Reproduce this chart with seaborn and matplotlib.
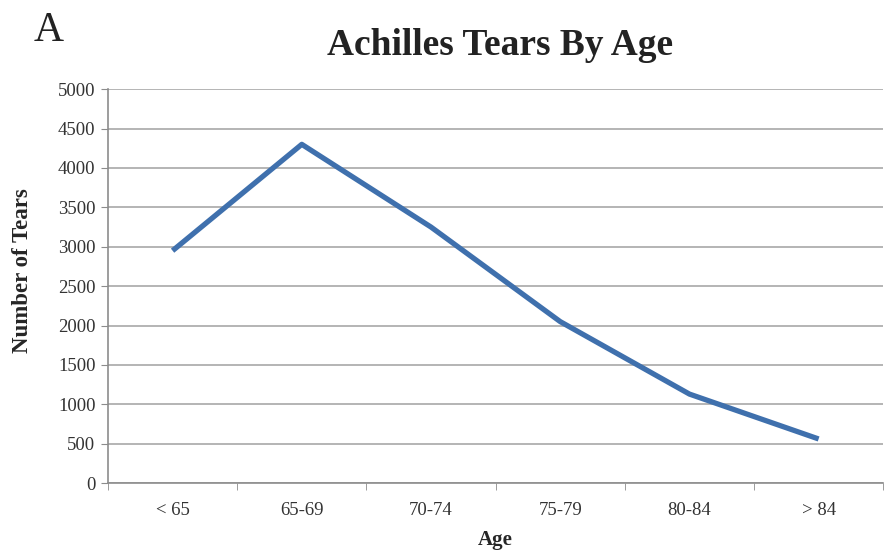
import pandas as pd
import numpy as np

import seaborn as sns
import matplotlib.pyplot as plt
from matplotlib.ticker import FixedLocator, NullFormatter


ages = ["< 65", "65-69", "70-74", "75-79", "80-84", "> 84"]
tears = [2950, 4300, 3250, 2050, 1130, 560]
yticks = [0, 500, 1000, 1500, 2000, 2500, 3000, 3500, 4000, 4500, 5000]

df = pd.DataFrame({"Age": ages, "Tears": tears})

sns.set_style("white")
plt.rcParams["font.family"] = ["Liberation Serif", "DejaVu Serif"]

fig = plt.figure(figsize=(8.85, 5.54), dpi=100)
ax = fig.add_axes([0.122, 0.128, 0.876, 0.711])

sns.lineplot(x="Age", y="Tears", data=df, ax=ax, color="#3f70ad", linewidth=3.8,
             sort=False, solid_capstyle="butt")

ax.set_xlim(-0.5, len(ages) - 0.5)
ax.set_ylim(0, 5000)
ax.set_yticks(yticks)
ax.set_xticks(range(len(ages)))
ax.set_xticklabels(ages)
ax.xaxis.set_minor_locator(FixedLocator(np.arange(-0.5, len(ages), 1.0)))
ax.xaxis.set_minor_formatter(NullFormatter())

ax.yaxis.grid(True, color="#b4b4b4", linewidth=1.4)
ax.set_axisbelow(True)
for s in ["top", "right"]:
    ax.spines[s].set_visible(False)
for s in ["left", "bottom"]:
    ax.spines[s].set_color("#8c8c8c")
    ax.spines[s].set_linewidth(1.2)

ax.tick_params(axis="y", which="major", left=True, length=5, color="#8c8c8c",
               labelsize=13.5, labelcolor="#333333", pad=4)
ax.tick_params(axis="x", which="major", bottom=False, labelsize=13.5,
               labelcolor="#333333", pad=10)
ax.tick_params(axis="x", which="minor", bottom=True, length=5, color="#8c8c8c")

ax.set_xlabel("Age", fontsize=15, fontweight="bold", labelpad=8)
ax.set_ylabel("Number of Tears", fontsize=16.5, fontweight="bold")
ax.yaxis.set_label_coords(-0.097, 0.54)

fig.text(0.565, 0.918, "Achilles Tears By Age", ha="center", va="center",
         fontsize=27, fontweight="bold", color="#222222")
fig.text(0.038, 0.945, "A", ha="left", va="center", fontsize=30, color="#222222")

plt.savefig("out.png", dpi=100)
plt.close()
